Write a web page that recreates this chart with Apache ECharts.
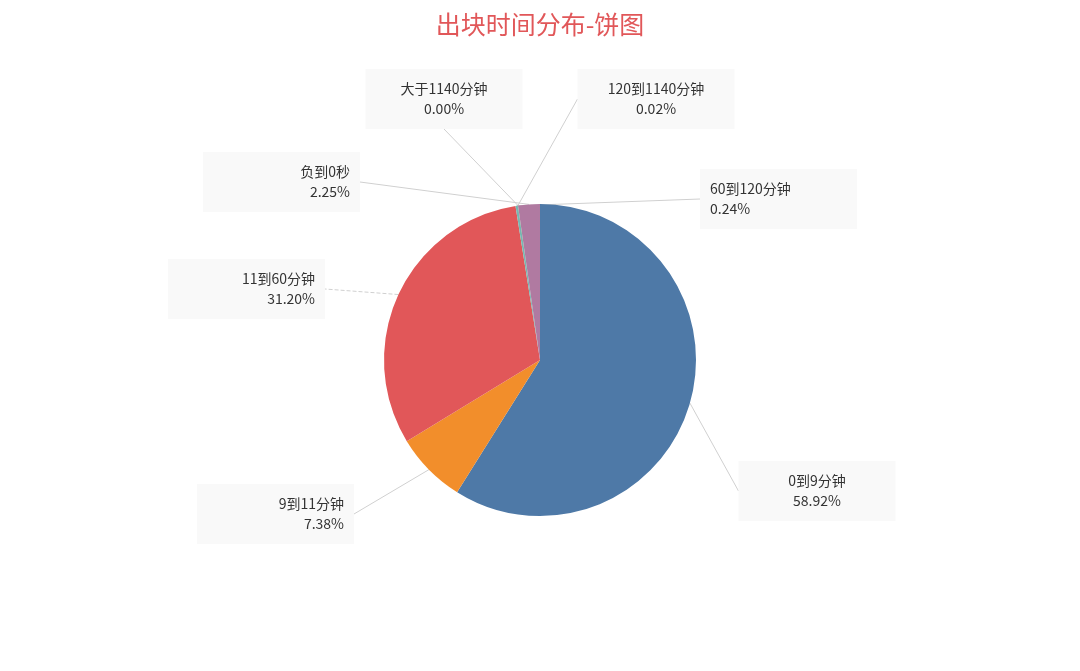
<!DOCTYPE html>
<html>
<head>
<meta charset="utf-8">
<script src="https://cdn.jsdelivr.net/npm/echarts@6/dist/echarts.min.js"></script>
<style>html,body{margin:0;padding:0;background:#fff;}#c{width:1080px;height:671px;}</style>
</head>
<body>
<div id="c"></div>
<script>
const categories = ['0到9分钟', '9到11分钟', '11到60分钟', '60到120分钟', '120到1140分钟', '大于1140分钟', '负到0秒'];
const percentValues = [58.92, 7.38, 31.20, 0.24, 0.02, 0.00, 2.25];
const colors = ['#4e79a7', '#f28e2b', '#e15759', '#76b7b2', '#59a14f', '#edc948', '#b07aa1'];

// label box anchor (x, y, align) for each category, in page pixels
const labelBoxes = [
  [817, 461, 'center'],
  [354, 484, 'right'],
  [325, 259, 'right'],
  [700, 169, 'left'],
  [656, 69, 'center'],
  [444, 69, 'center'],
  [360, 152, 'right']
];

const chart = echarts.init(document.getElementById('c'));
chart.setOption({
  animation: false,
  title: {
    text: '出块时间分布-饼图',
    left: 'center',
    top: 7,
    textStyle: { color: '#e15759', fontSize: 25, fontWeight: 'normal', fontFamily: 'Noto Sans CJK SC' }
  },
  series: [{
    type: 'pie',
    center: [540, 360],
    radius: [0, 156],
    startAngle: 90,
    clockwise: true,
    avoidLabelOverlap: false,
    stillShowZeroSum: true,
    minShowLabelAngle: 0,
    itemStyle: { borderWidth: 0 },
    emphasis: { disabled: true },
    data: categories.map((name, i) => ({
      name: name,
      value: percentValues[i],
      itemStyle: { color: colors[i] },
      label: { align: labelBoxes[i][2] },
      labelLine: { lineStyle: { type: i === 2 ? 'dashed' : 'solid' } }
    })),
    label: {
      show: true,
      position: 'outside',
      formatter: p => p.name + '\n' + p.value.toFixed(2) + '%',
      color: '#333',
      fontSize: 14,
      lineHeight: 20,
      fontFamily: 'Noto Sans CJK SC',
      backgroundColor: '#f9f9f9',
      width: 137,
      height: 40,
      padding: [10, 10],
      verticalAlign: 'top'
    },
    labelLine: {
      show: true,
      length: 0,
      length2: 0,
      lineStyle: { color: '#d0d0d0', width: 1 }
    },
    labelLayout: function (params) {
      const b = labelBoxes[params.dataIndex];
      return { x: b[0], y: b[1], align: b[2], verticalAlign: 'top', moveOverlap: null, hideOverlap: false };
    }
  }]
});
</script>
</body>
</html>
